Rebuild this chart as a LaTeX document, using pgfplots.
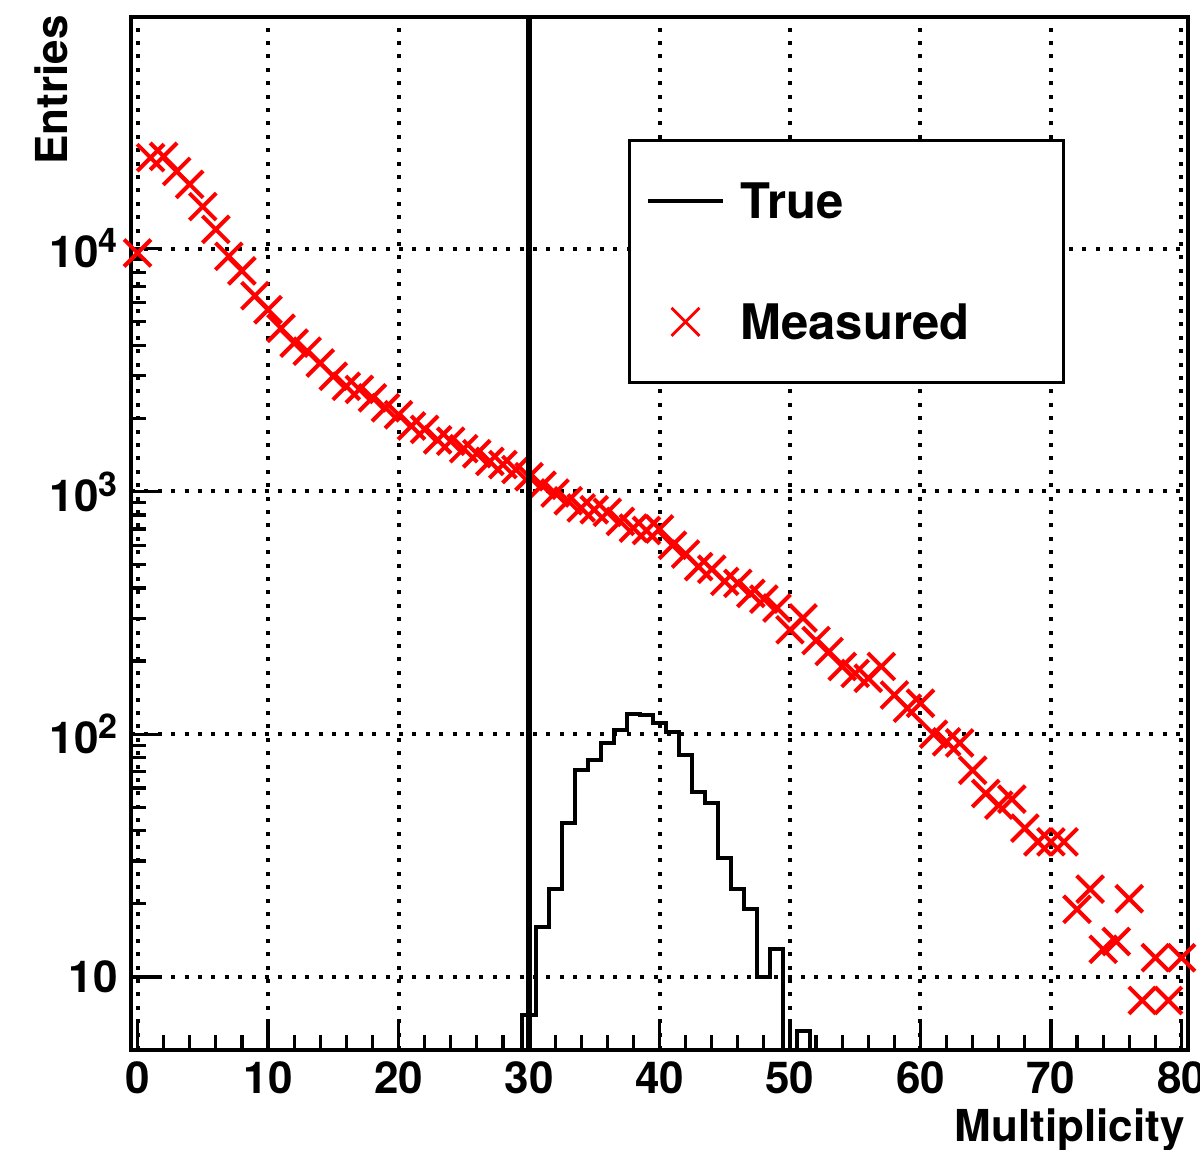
\documentclass[border=0pt]{standalone}
\usepackage{pgfplots}
\pgfplotsset{compat=1.18}
\usepackage{fontspec}
\setmainfont{TeX Gyre Heros}
\newcommand{\sps}[1]{\raisebox{7.5pt}{\fontsize{17}{17}\selectfont #1}}
\begin{document}
\begin{tikzpicture}
\begin{axis}[
  scale only axis, width=528.5pt, height=516.5pt,
  xmin=-0.5, xmax=80.5, ymode=log, ymin=5, ymax=9e4,
  axis line style={line width=1.7pt},
  tick align=inside, tick pos=left,
  major tick length=15pt, minor tick length=7.5pt,
  every tick/.style={black, line width=1.6pt},
  xtick={0,10,20,30,40,50,60,70,80},
  xticklabels={0,10,20,30,40,50,60,70,80},
  minor x tick num=4,
  ytick={10,100,1000,10000},
  yticklabels={10,10\sps{2},10\sps{3},10\sps{4}},
  ticklabel style={font=\fontsize{22}{26}\selectfont\bfseries, inner sep=0pt},
  xticklabel style={anchor=north, yshift=-5.5pt},
  yticklabel style={anchor=east, xshift=-6.5pt},
  grid=major,
  major grid style={black, line width=2pt, dash pattern=on 2pt off 4.7pt},
  xlabel={Multiplicity}, ylabel={Entries},
  label style={font=\fontsize{22}{26}\selectfont\bfseries, inner sep=0pt},
  xlabel style={at={(axis description cs:0.99716,-0.05615)}, anchor=north east},
  ylabel style={at={(axis description cs:-0.0593,1.002)}, anchor=south east},
  clip mode=individual,
  legend style={at={(axis description cs:0.470,0.882)}, anchor=north west,
    draw=black, line width=1.5pt, fill=white,
    inner xsep=8.5pt, inner ysep=0pt, row sep=0pt, column sep=8pt,
    font=\fontsize{24.5}{29}\selectfont\bfseries,
    nodes={inner sep=0pt, text height=39pt, text depth=21.5pt, text width=153pt, align=left}},
]
\addplot[const plot, black, line width=2pt,
  legend image code/.code={\draw[black, line width=1.7pt] (0pt,0pt) -- (37.5pt,0pt);}]
coordinates {
(28.5,1) (29.5,7) (30.5,16) (31.5,23) (32.5,43) (33.5,71) (34.5,78) (35.5,92)
(36.5,104) (37.5,121) (38.5,120) (39.5,111) (40.5,102) (41.5,82) (42.5,58)
(43.5,52) (44.5,31) (45.5,23) (46.5,19) (47.5,10) (48.5,13) (49.5,1) (50.5,6)
(51.5,1) (52.5,1)
};
\addlegendentry{True}
\addplot[only marks, mark=x, mark size=9.5pt, red, mark options={line width=2pt},
  legend image code/.code={\draw[red, line width=1.4pt] (11.75pt,-7pt) -- (25.75pt,7pt) (11.75pt,7pt) -- (25.75pt,-7pt);}]
coordinates {
(0,9600) (1,23700) (2,24000) (3,20800) (4,18400) (5,14900) (6,12000) (7,9300)
(8,8100) (9,6400) (10,5600) (11,4700) (12,4080) (13,3780) (14,3380) (15,2980)
(16,2710) (17,2630) (18,2430) (19,2210) (20,2070) (21,1860) (22,1800) (23,1630)
(24,1610) (25,1500) (26,1430) (27,1330) (28,1290) (29,1230) (30,1150) (31,1060)
(32,985) (33,915) (34,855) (35,840) (36,820) (37,752) (38,706) (39,690)
(40,700) (41,600) (42,552) (43,490) (44,478) (45,426) (46,418) (47,380)
(48,360) (49,331) (50,269) (51,301) (52,243) (53,219) (54,190) (55,178)
(56,170) (57,190) (58,145) (59,128) (60,134) (61,100) (62,93) (63,92)
(64,71) (65,57) (66,51) (67,54) (68,41) (69,36) (70,36) (71,36)
(72,19) (73,23) (74,13) (75,14) (76,21) (77,8) (78,12) (79,8) (80,12)
};
\addlegendentry{Measured}
\addplot[black, line width=3.3pt, forget plot] coordinates {(30,5) (30,9e4)};
\end{axis}
\pgfresetboundingbox
\path ([shift={(-65.5pt,-49.5pt)}]current axis.south west) rectangle ([shift={(6pt,8.5pt)}]current axis.north east);
\end{tikzpicture}
\end{document}
